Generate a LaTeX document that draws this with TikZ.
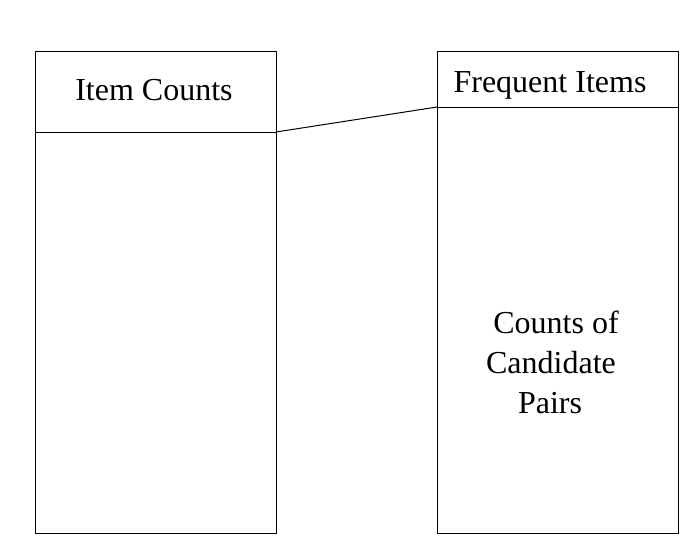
\documentclass[tikz,border=0pt]{standalone}
\usepackage{fontspec}
\setmainfont{LiberationSerif}
\begin{document}
\begin{tikzpicture}[x=1pt,y=-1pt,
  boxline/.style={draw=black,line width=1pt},
  lbl/.style={font=\fontsize{32}{38}\selectfont,anchor=base,inner sep=0pt}]
\useasboundingbox (0,0) rectangle (698,550);
\coordinate (LTL) at (35,51);
\coordinate (LBR) at (276,533);
\coordinate (LH1) at (35,132);
\coordinate (LH2) at (276,132);
\coordinate (RTL) at (437,51);
\coordinate (RBR) at (678,533);
\coordinate (RH1) at (437,107);
\coordinate (RH2) at (678,107);
\draw[boxline] (LTL) rectangle (LBR);
\draw[boxline] (RTL) rectangle (RBR);
\draw[boxline] (LH1) -- (LH2);
\draw[boxline] (RH1) -- (RH2);
\draw[boxline] (LH2) -- (RH1);
\node[lbl] (ic) at (154,100) {Item Counts};
\node[lbl] (fi) at (550,92) {Frequent Items};
\node[lbl] (c1) at (556,333) {Counts of};
\node[lbl] (c2) at (551,373) {Candidate};
\node[lbl] (c3) at (550,413) {Pairs};
\end{tikzpicture}
\end{document}
